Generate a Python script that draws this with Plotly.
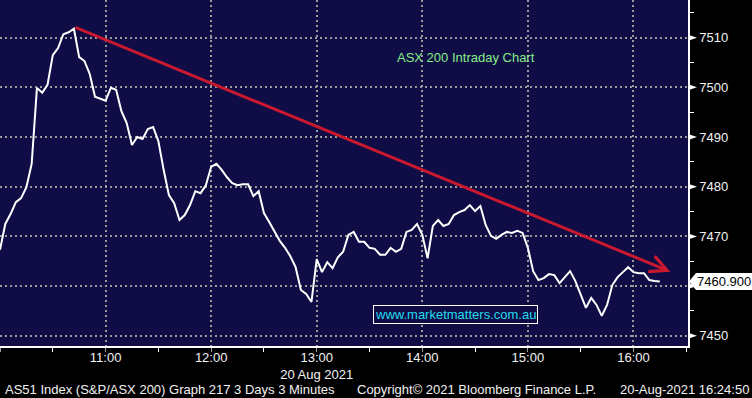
import plotly.graph_objects as go
import pandas as pd

# ---- data (AS51 index, 3-minute bars, 20 Aug 2021) ----
start_time = "2021-08-20 10:00"
bar_minutes = 3
index_values = [
    7467.3, 7472.5, 7474.5, 7476.9, 7477.7, 7479.9, 7484.6, 7499.9, 7498.9, 7500.5,
    7506.5, 7507.9, 7510.7, 7511.1, 7511.8, 7506.1, 7505.3, 7502.7, 7498.1, 7497.7,
    7497.3, 7499.9, 7499.5, 7495.2, 7492.8, 7488.4, 7490.0, 7489.6, 7491.6, 7492.0,
    7489.2, 7483.4, 7478.3, 7476.7, 7473.3, 7474.3, 7476.3, 7479.1, 7478.7, 7480.3,
    7484.0, 7484.6, 7483.4, 7481.9, 7480.7, 7480.3, 7480.5, 7480.5, 7478.1, 7479.1,
    7474.7, 7472.9, 7471.1, 7469.1, 7467.7, 7466.0, 7463.8, 7459.2, 7458.4, 7456.8,
    7465.4, 7462.8, 7464.8, 7463.6, 7465.8, 7466.9, 7470.3, 7470.9, 7468.9, 7468.9,
    7467.7, 7467.5, 7466.3, 7466.3, 7467.7, 7466.9, 7467.5, 7470.9, 7471.3, 7472.5,
    7470.3, 7465.6, 7472.1, 7473.3, 7472.1, 7472.5, 7474.3, 7474.9, 7475.3, 7476.3,
    7475.1, 7476.1, 7472.3, 7470.1, 7469.5, 7470.3, 7470.9, 7470.7, 7471.1, 7470.7,
    7467.7, 7463.0, 7461.2, 7461.6, 7462.4, 7462.2, 7460.6, 7461.8, 7463.0, 7461.0,
    7458.4, 7455.6, 7457.6, 7456.2, 7454.0, 7456.2, 7460.2, 7461.8, 7462.8, 7463.8,
    7462.8, 7462.6, 7462.6, 7461.2, 7461.0, 7460.9,
]
last_price = 7460.9
last_price_text = "7460.900"

trend_times = ["2021-08-20 10:42:00", "2021-08-20 16:21:00"]
trend_values = [7512.2, 7462.9]

y_tick_values = [7450, 7460, 7470, 7480, 7490, 7500, 7510]
y_tick_text = ["7450", "", "7470", "7480", "7490", "7500", "7510"]
x_tick_values = ["2021-08-20 10:00", "2021-08-20 11:00", "2021-08-20 12:00", "2021-08-20 13:00",
                 "2021-08-20 14:00", "2021-08-20 15:00", "2021-08-20 16:00"]
x_tick_text = ["", "11:00", "12:00", "13:00<br>20 Aug 2021", "14:00", "15:00", "16:00"]

chart_title = "ASX 200 Intraday Chart"
website = "www.marketmatters.com.au"
footer_left = "AS51 Index (S&P/ASX 200) Graph 217 3 Days 3 Minutes"
footer_mid = "Copyright\u00a9 2021 Bloomberg Finance L.P."
footer_right = "20-Aug-2021 16:24:50"

# ---- styling ----
NAVY = "#0f0c46"
RED = "#c8192e"
FONT = "Liberation Sans, Arial, sans-serif"
TXT = "#f2f2f2"
Y_RANGE = [7447.93, 7517.59]

times = pd.date_range(start_time, periods=len(index_values), freq=f"{bar_minutes}min")
x_vals = [t.strftime("%Y-%m-%d %H:%M:%S") for t in times]

fig = go.Figure()
fig.add_trace(go.Scatter(x=x_vals, y=index_values, mode="lines",
                         line=dict(color="white", width=2), hoverinfo="skip",
                         showlegend=False))

fig.update_layout(
    width=752, height=398,
    margin=dict(l=0, r=64, t=0, b=52),
    paper_bgcolor="black", plot_bgcolor=NAVY,
    showlegend=False,
    xaxis=dict(
        type="date",
        range=["2021-08-20 10:00:00", "2021-08-20 16:31:00"],
        tickvals=x_tick_values, ticktext=x_tick_text,
        showgrid=True, gridcolor="#9a9a9a", gridwidth=2, griddash="2px,3px",
        ticks="outside", ticklen=4, tickcolor="#9a9a9a", tickwidth=1,
        ticklabelstandoff=-6,
        minor=dict(dtick=1800000, tick0="2021-08-20 10:00", ticks="outside",
                   ticklen=4, tickcolor="white", tickwidth=1, showgrid=False),
        showline=True, linecolor="white", linewidth=2,
        tickfont=dict(family=FONT, size=13, color=TXT),
        zeroline=False, fixedrange=True,
    ),
    yaxis=dict(
        side="right",
        range=Y_RANGE,
        tickvals=y_tick_values, ticktext=y_tick_text,
        showgrid=True, gridcolor="#9a9a9a", gridwidth=2, griddash="2px,3px",
        ticks="outside", ticklen=7, tickcolor="rgba(0,0,0,0)",
        minor=dict(dtick=5, tick0=7450, ticks="outside", ticklen=4,
                   tickcolor="white", tickwidth=1, showgrid=False),
        showline=True, linecolor="white", linewidth=1.5,
        tickfont=dict(family=FONT, size=13, color=TXT),
        zeroline=False, fixedrange=True,
    ),
)

# trend arrow
fig.add_annotation(x=trend_times[1], y=trend_values[1], ax=trend_times[0], ay=trend_values[0],
                   xref="x", yref="y", axref="x", ayref="y", text="", showarrow=True,
                   arrowhead=5, arrowsize=1.1, arrowwidth=3, arrowcolor=RED,
                   standoff=0, startstandoff=0)

# tick flag markers on right axis
for v in y_tick_values:
    fig.add_shape(type="path", xref="paper", yref="y", xsizemode="pixel", xanchor=1,
                  ysizemode="pixel", yanchor=v, path="M 0 3 L 9 0 L 0 -3 Z",
                  fillcolor="white", line=dict(width=0), layer="above")

# last price tag: pointer + boxed text
fig.add_shape(type="path", xref="paper", yref="y", xsizemode="pixel", xanchor=1,
              ysizemode="pixel", yanchor=last_price,
              path="M 1 0 L 8 8.5 L 10 8.5 L 10 -8.5 L 8 -8.5 Z",
              fillcolor="white", line=dict(width=0), layer="above")
tag_y = (last_price - Y_RANGE[0]) / (Y_RANGE[1] - Y_RANGE[0])
fig.add_annotation(xref="paper", yref="paper", x=1, y=tag_y, xanchor="left", yanchor="middle",
                   xshift=8, text=last_price_text, showarrow=False, bgcolor="white",
                   borderpad=1, borderwidth=0,
                   font=dict(family=FONT, size=13, color="black"))

fig.add_annotation(xref="paper", yref="paper", x=0.677, y=0.835, text=chart_title,
                   showarrow=False, xanchor="center", yanchor="middle",
                   font=dict(family=FONT, size=13, color="#86ec86"))
fig.add_annotation(xref="paper", yref="paper", x=0.662, y=0.0896, text=website,
                   showarrow=False, xanchor="center", yanchor="middle",
                   bordercolor="white", borderwidth=1, borderpad=1, bgcolor=NAVY,
                   font=dict(family=FONT, size=13, color="#22dcec"))
for txt, xpos in [(footer_left, 0.0044), (footer_mid, 0.516), (footer_right, 0.898)]:
    fig.add_annotation(xref="paper", yref="paper", x=xpos, y=-0.127, text=txt,
                       showarrow=False, xanchor="left", yanchor="middle",
                       font=dict(family=FONT, size=13, color=TXT))

fig.write_html("out.html")
